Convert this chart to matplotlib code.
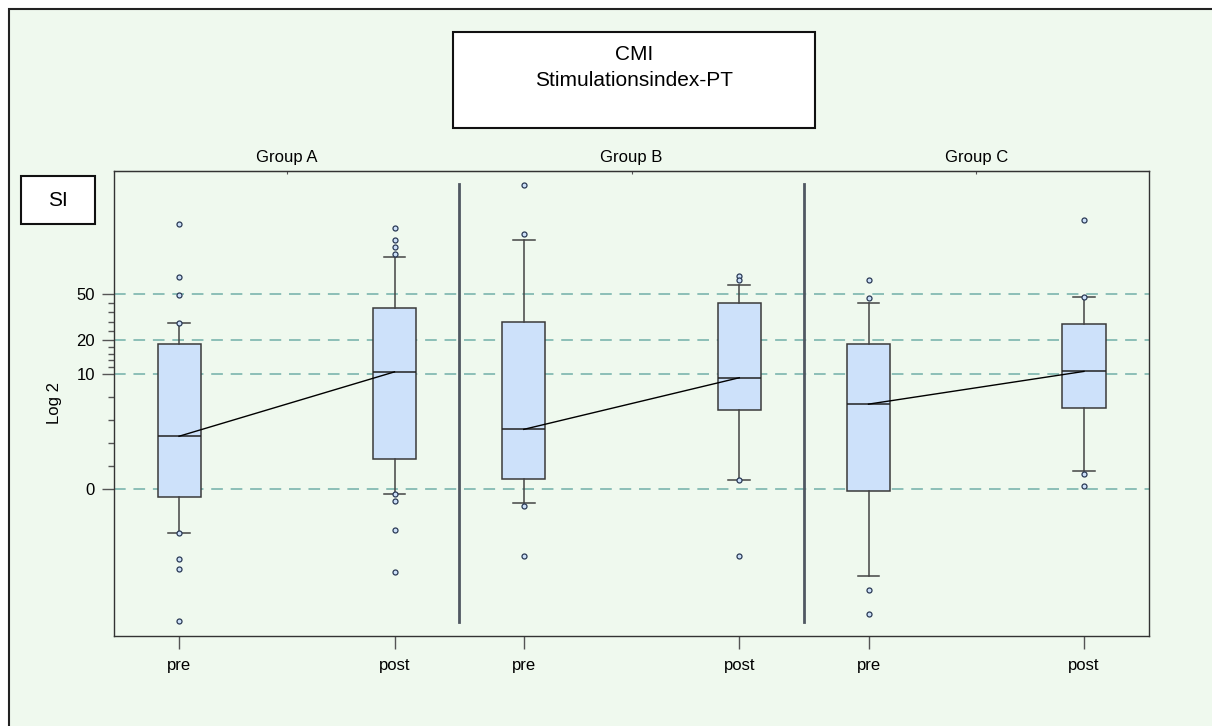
import numpy as np
import matplotlib
matplotlib.use('Agg')
import matplotlib.pyplot as plt
from matplotlib.patches import Rectangle

plt.rcParams['font.family'] = ['Liberation Sans', 'DejaVu Sans']

# categories
groups = ['Group A', 'Group B', 'Group C']
times = ['pre', 'post']

# box statistics (SI), per group: [pre, post]
medians = [[4.6, 10.5], [5.2, 9.7], [7.4, 10.6]]
q1 = [[-0.7, 2.6], [0.9, 6.9], [-0.2, 7.1]]
q3 = [[18.5, 37.8], [28.6, 41.6], [18.5, 27.5]]
whisk_lo = [[-3.8, -0.4], [-1.2, 0.8], [-7.6, 1.6]]
whisk_hi = [[27.9, 106], [149, 60], [41.6, 46.9]]
outliers = [
  [[204, 70, 49, 27.9, -3.8, -6.1, -7.0, -14.1],
   [187.5, 148, 130, 112.6, -0.4, -1.05, -3.6, -7.2]],
  [[450, 167, -1.5, -5.8],
   [71.5, 66.4, 0.8, -5.8]],
  [[66.4, 46, -8.8, -12.4],
   [220, 46.9, 1.3, 0.3]],
]

# y axis ticks
major_ticks = [0, 10, 20, 50]
ref_lines = [0, 10, 20, 50]

bg = '#EFF9EE'
box_face = '#CDE1FA'

fig = plt.figure(figsize=(12.12, 7.26), dpi=100, facecolor='white')
# outer panel
fig.patches.append(Rectangle((0.0074, -0.05), 1.2, 0.988 + 0.05, transform=fig.transFigure,
                             facecolor=bg, edgecolor='#222222', lw=1.5, zorder=-10))

ax = fig.add_axes([0.0944, 0.1244, 0.8533, 0.6405])
ax.set_facecolor(bg)
ax.set_yscale('symlog', base=10, linthresh=10, linscale=0.9)

panel = 16
offs = [3, 13]
stats, pos = [], []
for g in range(len(groups)):
  for t in range(len(times)):
    stats.append(dict(med=medians[g][t], q1=q1[g][t], q3=q3[g][t],
                      whislo=whisk_lo[g][t], whishi=whisk_hi[g][t],
                      fliers=outliers[g][t]))
    pos.append(g * panel + offs[t])

ax.bxp(stats, positions=pos, widths=2, capwidths=1, patch_artist=True,
       manage_ticks=False,
       boxprops=dict(facecolor=box_face, edgecolor='#3a3a3a', lw=1.1),
       medianprops=dict(color='#222222', lw=1.1),
       whiskerprops=dict(color='#444444', lw=1.1),
       capprops=dict(color='#444444', lw=1.1),
       flierprops=dict(marker='o', markersize=3.6, markerfacecolor=box_face,
                       markeredgecolor='#2b3a55', markeredgewidth=0.9),
       zorder=3)

# median connecting lines
for g in range(len(groups)):
  ax.plot([g * panel + offs[0], g * panel + offs[1]], medians[g],
          color='black', lw=1, zorder=4)

for v in ref_lines:
  ax.axhline(v, color='#8CBFB7', lw=1.4, ls=(0, (6, 4)), zorder=1)

for g in range(1, len(groups)):
  ax.axvline(g * panel, ymin=0.03, ymax=0.971, color='#505862', lw=2, zorder=2)

ax.set_xlim(0, panel * len(groups))
ax.set_ylim(-19, 596)

ax.set_xticks(pos, times * len(groups))
ax.set_yticks(major_ticks, [str(v) for v in major_ticks])
minor = list(np.arange(2, 10, 2)) + list(np.geomspace(10, 20, 6)[1:-1]) + list(np.geomspace(20, 50, 6)[1:-1])
ax.set_yticks(minor, minor=True)
ax.yaxis.set_minor_formatter(plt.NullFormatter())
ax.tick_params(axis='x', length=9, width=1, color='#555555', labelsize=12, pad=7)
ax.tick_params(axis='y', which='major', length=9, width=1, color='#555555', labelsize=12, pad=5)
ax.tick_params(axis='y', which='minor', length=4.5, width=1, color='#555555')
for s in ax.spines.values():
  s.set_color('#333333')
  s.set_linewidth(1)

sec = ax.secondary_xaxis('top')
sec.set_xticks([g * panel + panel / 2 for g in range(len(groups))], groups)
sec.tick_params(direction='in', length=2, labelsize=12, pad=4, color='#555555')
sec.spines['top'].set_color('#333333')

fig.text(55 / 1212, 1 - 403 / 726, 'Log 2', rotation=90, ha='center', va='center', fontsize=12)

# title box
fig.patches.append(Rectangle((0.374, 0.8237), 0.2982, 0.1322, transform=fig.transFigure,
                             facecolor='white', edgecolor='#111111', lw=1.5, zorder=2))
fig.text(0.5231, 1 - 54.7 / 726, 'CMI', ha='center', va='center', fontsize=15, zorder=3)
fig.text(0.5231, 1 - 80 / 726, 'Stimulationsindex-PT', ha='center', va='center', fontsize=15, zorder=3)

# SI box
fig.patches.append(Rectangle((0.01757, 0.6910), 0.06056, 0.0669, transform=fig.transFigure,
                             facecolor='white', edgecolor='#111111', lw=1.5, zorder=2))
fig.text(0.04785, 1 - 200 / 726, 'SI', ha='center', va='center', fontsize=15, zorder=3)

fig.savefig('out.png', dpi=100, facecolor='white')
